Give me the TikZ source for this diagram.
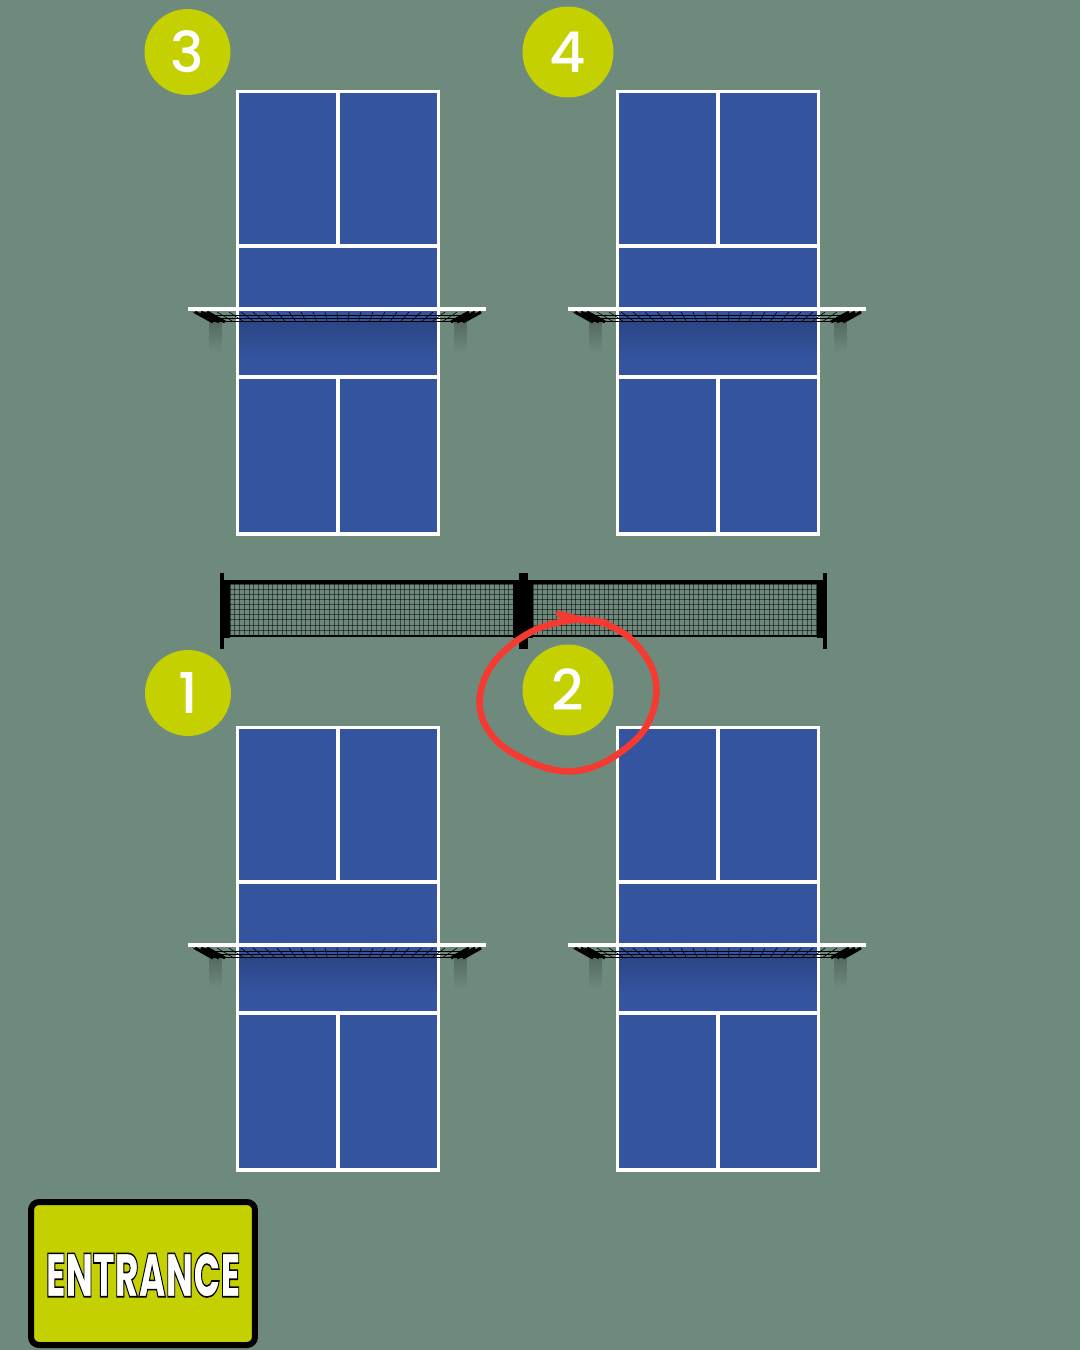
\documentclass[tikz,border=0pt]{standalone}
\usepackage{fontspec}
\setmainfont{Poppins Medium}
\newfontfamily\signfont{Poppins ExtraBold}
\usetikzlibrary{fadings}
\definecolor{groundgreen}{HTML}{6E8A7C}
\definecolor{courtblue}{HTML}{35549F}
\definecolor{badgelime}{HTML}{C4D000}
\definecolor{loopred}{HTML}{F53A32}
\tikzset{
  courtline/.style={draw=white,line width=0.07cm},
  badge/.style={circle,fill=badgelime,text=white,inner sep=0pt,font=\fontsize{32}{32}\selectfont},
  meshline/.style={draw=black,line width=0.01cm,opacity=0.5},
  frameline/.style={fill=black,draw=none},
}
% outlined lettering for the sign
\newcommand{\outlined}[1]{\special{pdf:code 2 Tr 0.9 w 0 0 0 RG}#1\special{pdf:code 0 Tr}}
% one court with its net, origin at the court 3 position
\newcommand{\pbcourt}[2]{%
  \begin{scope}[shift={(#1,#2)}]
    \fill[courtblue] (237,91) rectangle (439,534);
    % shadow of the net
    \fill[black,opacity=0.16,path fading=south] (237,322) rectangle (439,356);
    \fill[black,opacity=0.22,path fading=south] (209,322) rectangle (222,352);
    \fill[black,opacity=0.22,path fading=south] (454,322) rectangle (467,352);
    \draw[courtline] (237.5,91.5) rectangle (438.5,534);
    \draw[courtline] (338,91) -- (338,246);
    \draw[courtline] (338,377) -- (338,534);
    \draw[courtline] (237,246) -- (439,246);
    \draw[courtline] (237,377) -- (439,377);
    % net seen from above
    \foreach \k in {0,...,24}
      \draw[black,line width=0.012cm] ({193+\k*12},312) -- ({213+\k*10.4},322);
    \foreach \k in {315,318,321}
      \draw[black,line width=0.012cm] ({193+(\k-312)*2},\k) -- ({483-(\k-312)*2},\k);
    \foreach \k in {0,6,12} {
      \draw[black,line width=0.06cm] ({195+\k},312) -- ({213+\k},322);
      \draw[black,line width=0.06cm] ({481-\k},312) -- ({463-\k},322);
    }
    \draw[white,line width=0.09cm] (188,309) -- (486,309);
  \end{scope}%
}
\begin{document}
\begin{tikzpicture}[x=0.02cm,y=-0.02cm]
  \useasboundingbox (0,0) rectangle (1080,1350);
  \fill[groundgreen] (0,0) rectangle (1080,1350);

  % fence between the rows
  \foreach \k in {0,...,60}
    \draw[meshline] ({230+\k*4.72},584) -- ({230+\k*4.72},635);
  \foreach \k in {0,...,60}
    \draw[meshline] ({533+\k*4.72},584) -- ({533+\k*4.72},635);
  \foreach \k in {0,...,10} {
    \draw[meshline] (230,{584+\k*5.1}) -- (513,{584+\k*5.1});
    \draw[meshline] (533,{584+\k*5.1}) -- (817,{584+\k*5.1});
  }
  \fill[frameline] (224,580) rectangle (817,584);
  \fill[frameline] (224,635) rectangle (817,637);
  \fill[frameline] (220,573) rectangle (224,649);
  \fill[frameline] (224,580) rectangle (230,638);
  \fill[frameline] (513,580) rectangle (533,638);
  \fill[frameline] (519,573) rectangle (528,649);
  \fill[frameline] (817,580) rectangle (823,638);
  \fill[frameline] (823,573) rectangle (827,649);

  \pbcourt{0}{0}
  \pbcourt{380}{0}
  \pbcourt{0}{636}
  \pbcourt{380}{636}

  \node[badge,minimum size=1.72cm] (badge3) at (187.5,52) {3};
  \node[badge,minimum size=1.82cm] (badge4) at (568,52) {4};
  \node[badge,minimum size=1.72cm] (badge1) at (188,693) {1};
  \node[badge,minimum size=1.82cm] (badge2) at (568,690) {2};

  % hand drawn ring round court 2
  \draw[loopred,line width=0.13cm,line cap=round,line join=round]
    plot[smooth,tension=0.6] coordinates {(559,614) (583,620) (606,624) (632,640) (652,668) (656,698)
      (644,730) (618,754) (590,768) (562,771) (530,762) (500,744) (483,720) (480,695) (490,668)
      (510,646) (537,629) (566,621) (590,620) (606,623)};

  \node[rounded corners=0.16cm,draw=black,fill=badgelime,line width=0.12cm,
    minimum width=4.48cm,minimum height=2.86cm] (entrancesign) at (143,1273.5) {};
  \node[inner sep=0pt,xscale=0.585,font=\signfont\fontsize{35}{35}\selectfont,text=white]
    (entrancetext) at (143,1275) {\outlined{ENTRANCE}};
\end{tikzpicture}
\end{document}
